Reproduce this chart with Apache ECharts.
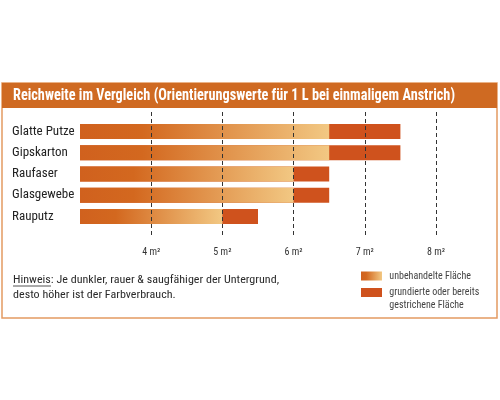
<!DOCTYPE html>
<html>
<head>
<meta charset="utf-8">
<script src="https://cdn.jsdelivr.net/npm/echarts@6/dist/echarts.min.js"></script>
<style>
  html, body { margin: 0; padding: 0; background: #fff; }
  #main { width: 500px; height: 400px; }
</style>
</head>
<body>
<div id="main"></div>
<script>
// Daten
var categories = ['Glatte Putze', 'Gipskarton', 'Raufaser', 'Glasgewebe', 'Rauputz'];
var unbehandelt = [6.5, 6.5, 6, 6, 5];       // m² pro Liter
var grundiert = [7.5, 7.5, 6.5, 6.5, 5.5];   // m² pro Liter
var ticks = [4, 5, 6, 7, 8];

var titel = 'Reichweite im Vergleich (Orientierungswerte für 1 L bei einmaligem Anstrich)';
var hinweis = 'Hinweis: Je dunkler, rauer & saugfähiger der Untergrund,\ndesto höher ist der Farbverbrauch.';

var FONT = '"Roboto Condensed", "DejaVu Sans Condensed", sans-serif';
var dark = '#cf521d';
var verlauf = new echarts.graphic.LinearGradient(0, 0, 1, 0, [
    { offset: 0, color: '#d0611e' },
    { offset: 0.25, color: '#d3681f' },
    { offset: 1, color: '#f2c883' }
]);

// Textbreite messen, um schmale Schrift nachzubilden
var ctx = document.createElement('canvas').getContext('2d');
function breite(text, font) { ctx.font = font; return ctx.measureText(text).width; }
var titelFont = 'bold 16px ' + FONT;
var titelScale = 442 / breite(titel, titelFont);
var hinweisFont = '11.5px ' + FONT;
var hinweisScale = 266 / breite(hinweis.split('\n')[0], hinweisFont);

var myChart = echarts.init(document.getElementById('main'));

option = {
    animation: false,
    textStyle: { fontFamily: FONT },
    graphic: [
        { type: 'rect', z: -10, shape: { x: 2, y: 83, width: 495, height: 235 },
          style: { fill: '#fff', stroke: '#e49a62', lineWidth: 1.5 } },
        { type: 'rect', z: -9, shape: { x: 2, y: 83, width: 495, height: 25 },
          style: { fill: '#cf6a22' } },
        { type: 'text', x: 13, y: 96, scaleX: titelScale,
          style: { text: titel, font: titelFont, fill: '#fff', verticalAlign: 'middle' } },
        { type: 'text', x: 13, y: 287.5, scaleX: hinweisScale,
          style: { text: hinweis, font: hinweisFont, fill: '#2a2a2a', lineHeight: 15, verticalAlign: 'middle' } },
        { type: 'line', shape: { x1: 13, y1: 286, x2: 51, y2: 286 },
          style: { stroke: '#2a2a2a', lineWidth: 0.8 } }
    ],
    legend: [
        { left: 361, top: 270, padding: 0, itemWidth: 21, itemHeight: 9,
          selectedMode: false, icon: 'rect',
          textStyle: { fontSize: 10, color: '#444', lineHeight: 12 },
          formatter: function (name) { return ' ' + name; },
          data: ['unbehandelte Fläche'] },
        { left: 361, top: 273, padding: 0, itemWidth: 21, itemHeight: 9,
          selectedMode: false, icon: 'rect',
          textStyle: { fontSize: 10, color: '#444', lineHeight: 13 },
          formatter: function (name) { return '\n ' + name.replace('\n', '\n '); },
          data: ['grundierte oder bereits\ngestrichene Fläche'] }
    ],
    grid: [
        { left: 80, right: 64, top: 121, height: 106 },
        { left: 80, right: 64, top: 112, height: 126 }
    ],
    xAxis: [
        { gridIndex: 0, type: 'value', min: 3, max: 8, show: false },
        { gridIndex: 1, type: 'value', min: 3, max: 8, interval: 1, z: 5,
          axisLine: { show: false }, axisTick: { show: false },
          axisLabel: {
              margin: 9, fontSize: 10, color: '#333',
              formatter: function (v) { return ticks.indexOf(v) >= 0 ? v + ' m²' : ''; }
          },
          splitLine: { show: true, showMinLine: false,
                       lineStyle: { type: [4, 3], color: '#333', width: 1 } } }
    ],
    yAxis: [
        { gridIndex: 0, type: 'category', data: categories, inverse: true,
          axisLine: { show: false }, axisTick: { show: false },
          axisLabel: { align: 'left', margin: 68, fontSize: 13, color: '#222' } },
        { gridIndex: 1, type: 'value', show: false }
    ],
    series: [
        {
            name: 'grundierte oder bereits\ngestrichene Fläche',
            type: 'bar', xAxisIndex: 0, yAxisIndex: 0,
            data: grundiert, barWidth: 15, barGap: '-100%',
            itemStyle: { color: dark }
        },
        {
            name: 'unbehandelte Fläche',
            type: 'bar', xAxisIndex: 0, yAxisIndex: 0,
            data: unbehandelt, barWidth: 15, barGap: '-100%',
            itemStyle: { color: verlauf }
        }
    ]
};

myChart.setOption(option);
</script>
</body>
</html>
